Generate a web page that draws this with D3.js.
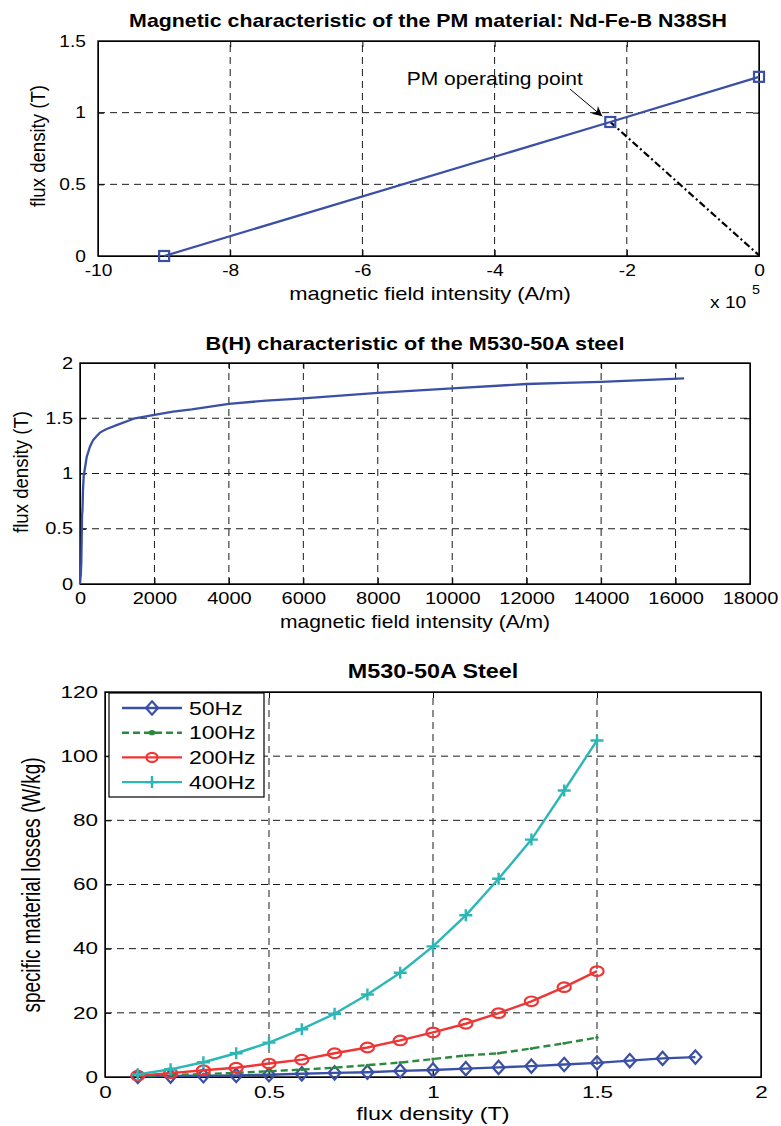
<!DOCTYPE html>
<html>
<head>
<meta charset="utf-8">
<script src="https://cdn.jsdelivr.net/npm/d3@7.9.0/dist/d3.min.js"></script>
<style>
  body { margin: 0; background: #fff; }
  svg { display: block; font-family: "Liberation Sans", Arial, Helvetica, sans-serif; }
</style>
</head>
<body>
<svg id="fig" width="781" height="1126"></svg>
<script>
// ---- chart 1: PM material (Nd-Fe-B N38SH) ----
const pmTitle = "Magnetic characteristic of the PM material: Nd-Fe-B N38SH";
const pmH = [-9e5, -2.25e5, 0];          // A/m
const pmB = [0, 0.935, 1.25];            // T
const loadLineH = [-2.25e5, 0];
const loadLineB = [0.935, 0.005];
const pmXTicks = [-1e6, -8e5, -6e5, -4e5, -2e5, 0];
const pmYTicks = [0, 0.5, 1, 1.5];
const annotText = "PM operating point";
const annotAt = [-5.33e5, 1.19];
const annotArrow = [[-2.86e5, 1.165], [-2.37e5, 0.975]];

// ---- chart 2: B(H) of M530-50A ----
const bhTitle = "B(H) characteristic of the M530-50A steel";
const bhH = [0, 20, 35, 45, 55, 67, 80, 100, 134, 180, 269, 350, 450, 537, 700, 1000,
             1478, 2000, 2500, 3000, 4000, 5000, 6000, 8000, 10000, 12000, 13000, 14000, 16230];
const bhB = [0, 0.08, 0.19, 0.4, 0.62, 0.67, 0.85, 0.98, 1.05, 1.15, 1.245, 1.3, 1.34, 1.37, 1.4, 1.44,
             1.5, 1.53, 1.56, 1.58, 1.63, 1.66, 1.68, 1.73, 1.77, 1.81, 1.82, 1.83, 1.86];
const bhXTicks = [0, 2000, 4000, 6000, 8000, 10000, 12000, 14000, 16000, 18000];
const bhYTicks = [0, 0.5, 1, 1.5, 2];

// ---- chart 3: specific losses ----
const lossTitle = "M530-50A Steel";
const lossNames = ["50Hz", "100Hz", "200Hz", "400Hz"];
const flux50 = [0.1, 0.2, 0.3, 0.4, 0.5, 0.6, 0.7, 0.8, 0.9, 1.0, 1.1, 1.2, 1.3, 1.4, 1.5, 1.6, 1.7, 1.8];
const fluxHi = [0.1, 0.2, 0.3, 0.4, 0.5, 0.6, 0.7, 0.8, 0.9, 1.0, 1.1, 1.2, 1.3, 1.4, 1.5];
const loss50 = [0.2, 0.3, 0.4, 0.5, 0.7, 1.0, 1.3, 1.5, 1.9, 2.2, 2.6, 3.0, 3.4, 3.9, 4.4, 5.1, 5.8, 6.2];
const loss100 = [0.3, 0.6, 0.9, 1.3, 1.8, 2.3, 2.9, 3.7, 4.5, 5.6, 6.7, 7.4, 8.9, 10.5, 12.3];
const loss200 = [0.4, 1.2, 2.1, 2.9, 4.2, 5.4, 7.4, 9.2, 11.4, 13.9, 16.6, 19.9, 23.6, 28.0, 33.0];
const loss400 = [0.8, 2.4, 4.6, 7.4, 10.7, 14.9, 19.7, 25.7, 32.5, 40.7, 50.4, 61.8, 74.0, 89.3, 104.9];
const lossXTicks = [0, 0.5, 1, 1.5, 2];
const lossYTicks = [0, 20, 40, 60, 80, 100, 120];

const blue = "#3a50a6", green = "#2b8a3e", red = "#ee3636", cyan = "#2db6b6";

const svg = d3.select("#fig");

function addText(g, str, x, y, o) {
  return g.append("text")
    .attr("transform", `translate(${x},${y}) rotate(${o.rotate || 0}) scale(${o.sx || 1},${o.sy || 1})`)
    .attr("text-anchor", o.anchor || "middle")
    .attr("font-size", o.size)
    .attr("font-weight", o.weight || "normal")
    .attr("fill", "#000")
    .text(str);
}

// MATLAB-like axes box: dashed grid, inward ticks on all sides, tick labels left/bottom
function drawFrame(x, y, c) {
  const [x0, x1] = x.range(), [y0, y1] = y.range();
  const g = svg.append("g");
  g.selectAll("line.gx").data(c.xTicks.slice(1, -1)).join("line")
    .attr("x1", d => x(d)).attr("x2", d => x(d)).attr("y1", y0).attr("y2", y1)
    .attr("stroke", "#1a1a1a").attr("stroke-dasharray", "7,5");
  g.selectAll("line.gy").data(c.yTicks.slice(1, -1)).join("line")
    .attr("y1", d => y(d)).attr("y2", d => y(d)).attr("x1", x0).attr("x2", x1)
    .attr("stroke", "#1a1a1a").attr("stroke-dasharray", "7,5");

  const ts = 6;
  const fix = (sel, sx) => {
    sel.selectAll(".tick text")
      .attr("font-size", c.tickSize)
      .attr("font-family", null)
      .attr("x", function () { return (+this.getAttribute("x") || 0) / sx; })
      .attr("transform", `scale(${sx},1)`);
    sel.attr("font-family", null).attr("font-size", c.tickSize);
  };
  g.append("g").attr("transform", `translate(0,${y0})`)
    .call(d3.axisBottom(x).tickValues(c.xTicks).tickSizeInner(-ts).tickSizeOuter(0)
      .tickPadding(c.xPad).tickFormat(c.xFmt))
    .call(s => fix(s, c.sx));
  g.append("g").attr("transform", `translate(0,${y1})`)
    .call(d3.axisTop(x).tickValues(c.xTicks).tickSizeInner(-ts).tickSizeOuter(0).tickFormat(""));
  g.append("g").attr("transform", `translate(${x0},0)`)
    .call(d3.axisLeft(y).tickValues(c.yTicks).tickSizeInner(-ts).tickSizeOuter(0)
      .tickPadding(c.yPad).tickFormat(c.yFmt))
    .call(s => fix(s, c.sx));
  g.append("g").attr("transform", `translate(${x1},0)`)
    .call(d3.axisRight(y).tickValues(c.yTicks).tickSizeInner(-ts).tickSizeOuter(0).tickFormat(""));
  g.append("rect").attr("x", x0).attr("y", y1).attr("width", x1 - x0).attr("height", y0 - y1)
    .attr("fill", "none").attr("stroke", "#000").attr("stroke-width", 1.4);
  return g;
}

// ================= chart 1 =================
{
  const x = d3.scaleLinear().domain([-1e6, 0]).range([98, 759]);
  const y = d3.scaleLinear().domain([0, 1.5]).range([256, 41]);
  drawFrame(x, y, { xTicks: pmXTicks, yTicks: pmYTicks, xFmt: d => String(d / 1e5), yFmt: d => String(d),
    tickSize: 16, sx: 1.2, xPad: 9, yPad: 12 });

  svg.append("path")
    .attr("d", d3.line()(loadLineH.map((h, i) => [x(h), y(loadLineB[i])])))
    .attr("fill", "none").attr("stroke", "#000").attr("stroke-width", 2.2)
    .attr("stroke-dasharray", "7,3,2,3");
  const pts = pmH.map((h, i) => [x(h), y(pmB[i])]);
  svg.append("path").attr("d", d3.line()(pts))
    .attr("fill", "none").attr("stroke", blue).attr("stroke-width", 2.3);
  svg.selectAll("rect.pm").data(pts).join("rect")
    .attr("x", d => d[0] - 5).attr("y", d => d[1] - 5).attr("width", 10).attr("height", 10)
    .attr("fill", "none").attr("stroke", blue).attr("stroke-width", 2.2);

  svg.append("defs").append("marker").attr("id", "ah")
    .attr("viewBox", "0 0 10 10").attr("refX", 10).attr("refY", 5)
    .attr("markerWidth", 12).attr("markerHeight", 10).attr("markerUnits", "userSpaceOnUse")
    .attr("orient", "auto")
    .append("path").attr("d", "M0,0 L10,5 L0,10 L3,5 Z").attr("fill", "#000");
  svg.append("line")
    .attr("x1", x(annotArrow[0][0])).attr("y1", y(annotArrow[0][1]))
    .attr("x2", x(annotArrow[1][0])).attr("y2", y(annotArrow[1][1]))
    .attr("stroke", "#000").attr("stroke-width", 1).attr("marker-end", "url(#ah)");
  addText(svg, annotText, x(annotAt[0]), y(annotAt[1]), { size: 17.5, sx: 1.2, anchor: "start" });

  addText(svg, pmTitle, 428, 27, { size: 17.5, sx: 1.22, weight: "bold" });
  addText(svg, "magnetic field intensity (A/m)", 430, 300, { size: 18, sx: 1.22 });
  addText(svg, "flux density (T)", 45, 146, { size: 18.6, rotate: -90, sy: 1.05 });
  addText(svg, "x 10", 710, 308, { size: 16, sx: 1.2, anchor: "start" });
  addText(svg, "5", 752, 294, { size: 12, sx: 1.2, anchor: "start" });
}

// ================= chart 2 =================
{
  const x = d3.scaleLinear().domain([0, 18000]).range([80, 750]);
  const y = d3.scaleLinear().domain([0, 2]).range([584, 363]);
  drawFrame(x, y, { xTicks: bhXTicks, yTicks: bhYTicks, xFmt: d => String(d), yFmt: d => String(d),
    tickSize: 16, sx: 1.25, xPad: 9, yPad: 7 });
  svg.append("path")
    .attr("d", d3.line().x((d, i) => x(d)).y((d, i) => y(bhB[i]))(bhH))
    .attr("fill", "none").attr("stroke", blue).attr("stroke-width", 2.3);

  addText(svg, bhTitle, 415, 350, { size: 18.5, sx: 1.17, weight: "bold" });
  addText(svg, "magnetic field intensity (A/m)", 415, 628, { size: 18, sx: 1.17 });
  addText(svg, "flux density (T)", 28, 472, { size: 18.6, rotate: -90, sy: 1.1 });
}

// ================= chart 3 =================
{
  const x = d3.scaleLinear().domain([0, 2]).range([105, 761]);
  const y = d3.scaleLinear().domain([0, 120]).range([1077, 692]);
  drawFrame(x, y, { xTicks: lossXTicks, yTicks: lossYTicks, xFmt: d => String(d), yFmt: d => String(d),
    tickSize: 16.3, sx: 1.38, xPad: 9.5, yPad: 7 });

  const series = [
    { name: lossNames[0], b: flux50, w: loss50, color: blue, dash: null, marker: "diamond" },
    { name: lossNames[1], b: fluxHi, w: loss100, color: green, dash: "7,4", marker: "dot" },
    { name: lossNames[2], b: fluxHi, w: loss200, color: red, dash: null, marker: "circle" },
    { name: lossNames[3], b: fluxHi, w: loss400, color: cyan, dash: null, marker: "plus" }
  ];

  const drawMarker = (g, kind, cx, cy, color, small) => {
    if (kind === "diamond") {
      g.append("path").attr("d", `M${cx},${cy - 6.7}L${cx + 6},${cy}L${cx},${cy + 6.7}L${cx - 6},${cy}Z`)
        .attr("fill", "none").attr("stroke", color).attr("stroke-width", 2.2);
    } else if (kind === "circle") {
      g.append("ellipse").attr("cx", cx).attr("cy", cy).attr("rx", small ? 5.5 : 6.6).attr("ry", small ? 4.5 : 4.8)
        .attr("fill", "none").attr("stroke", color).attr("stroke-width", 2.2);
    } else if (kind === "plus") {
      g.append("path").attr("d", `M${cx - 6.5},${cy}H${cx + 6.5}M${cx},${cy - 6}V${cy + 6}`)
        .attr("stroke", color).attr("stroke-width", 2.4);
    } else {
      g.append("ellipse").attr("cx", cx).attr("cy", cy).attr("rx", small ? 3.2 : 1.8).attr("ry", small ? 2.6 : 1.5)
        .attr("fill", color);
    }
  };

  series.forEach(s => {
    const g = svg.append("g");
    g.append("path")
      .attr("d", d3.line().x(d => x(d)).y((d, i) => y(s.w[i]))(s.b))
      .attr("fill", "none").attr("stroke", s.color).attr("stroke-width", 2.4)
      .attr("stroke-dasharray", s.dash);
    s.b.forEach((b, i) => drawMarker(g, s.marker, x(b), y(s.w[i]), s.color, false));
  });

  // legend
  const lg = svg.append("g");
  lg.append("rect").attr("x", 109).attr("y", 693).attr("width", 155).attr("height", 104)
    .attr("fill", "#fff").attr("stroke", "#000").attr("stroke-width", 1.2);
  series.forEach((s, i) => {
    const cy = 708 + i * 24.7;
    lg.append("line").attr("x1", 122).attr("x2", 182).attr("y1", cy).attr("y2", cy)
      .attr("stroke", s.color).attr("stroke-width", 2.4).attr("stroke-dasharray", s.dash);
    drawMarker(lg, s.marker, 152, cy, s.color, true);
    addText(lg, s.name, 189, cy + 6.5, { size: 18, sx: 1.28, anchor: "start" });
  });

  addText(svg, lossTitle, 433, 678, { size: 20.5, sx: 1.14, weight: "bold" });
  addText(svg, "flux density (T)", 433, 1120, { size: 18, sx: 1.3 });
  addText(svg, "specific material losses (W/kg)", 40, 885, { size: 18.9, rotate: -90, sy: 1.4 });
}
</script>
</body>
</html>
